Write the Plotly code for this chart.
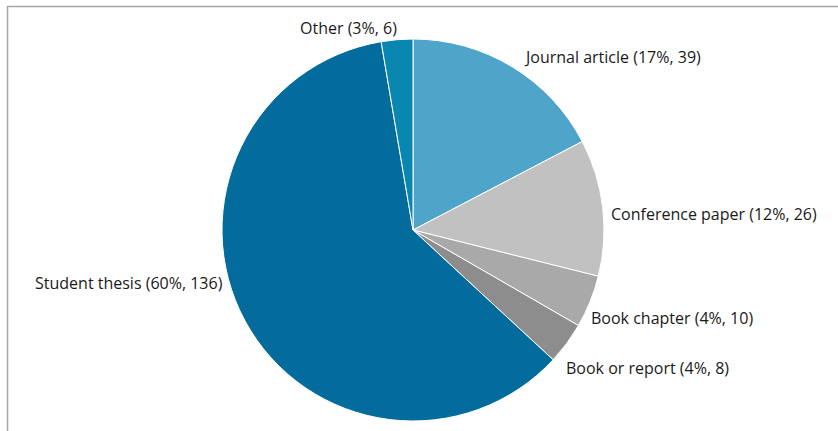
import plotly.graph_objects as go

labels = ["Journal article", "Conference paper", "Book chapter", "Book or report", "Student thesis", "Other"]
values = [39, 26, 10, 8, 136, 6]
colors = ["#4fa5c9", "#c1c1c1", "#a9a9a9", "#8d8d8d", "#036c9c", "#0a87b0"]

W, H = 838, 431
cx, cy, r = 413, 230, 191

# label placement (pixel positions of text anchors) and anchors
label_pos = [(523, 57, "left"), (610, 214, "left"), (590, 318, "left"),
             (565, 368, "left"), (224, 283, "right"), (348, 28, "center")]

total = sum(values)
texts = [f"{l} ({round(100 * v / total)}%, {v})" for l, v in zip(labels, values)]

fig = go.Figure(go.Pie(
    labels=labels, values=values, sort=False, direction="clockwise", rotation=0,
    marker=dict(colors=colors, line=dict(color="white", width=1)),
    textinfo="none",
    showlegend=False, hoverinfo="skip",
    automargin=False,
    domain=dict(x=[(cx - r) / W, (cx + r) / W], y=[(H - cy - r) / H, (H - cy + r) / H]),
))

annotations = []
for t, (px, py, anc) in zip(texts, label_pos):
    annotations.append(dict(
        text=t, x=px / W, y=(H - py) / H, xref="paper", yref="paper",
        xanchor=anc, yanchor="middle", showarrow=False, borderpad=0,
        font=dict(family="Open Sans", size=16, color="#1a1a1a"),
    ))

fig.update_layout(
    width=W, height=H, margin=dict(l=0, r=0, t=0, b=0),
    paper_bgcolor="white", plot_bgcolor="white",
    annotations=annotations,
    shapes=[dict(type="rect", xref="paper", yref="paper",
                 x0=7.5 / W, x1=1.05, y0=-0.05, y1=(H - 6.5) / H,
                 line=dict(color="#a6a6a6", width=1.5))],
)
fig.write_html("out.html", config={"displayModeBar": False},
               post_script="document.body.style.margin='0';")
